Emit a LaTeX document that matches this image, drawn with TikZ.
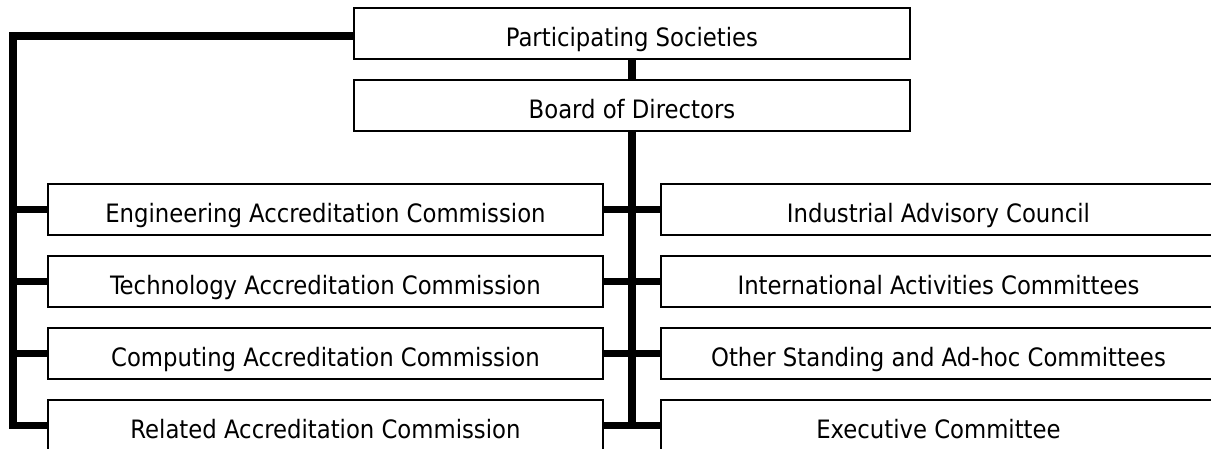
\documentclass[tikz,border=0pt]{standalone}
\usepackage{fontspec}
\setmainfont{DejaVu Sans Condensed}
\usepackage{tikz}

\begin{document}
\begin{tikzpicture}[x=0.025cm, y=-0.025cm,
        box/.style={draw, fill=white, line width=1.4pt, inner sep=0pt,
            minimum width=13.875cm, minimum height=1.275cm,
            text height=0.625cm, text depth=0cm, font=\fontsize{18}{21}\selectfont},
        link/.style={line width=5.6pt}]
        \clip (0, 0) rectangle (1211, 448);
        \node[box] (soc) at (632, 33.5) {Participating Societies};
        \node[box] (board) at (632, 105.5) {Board of Directors};

        \node[box] (eac) at (325.5, 209.5) {Engineering Accreditation Commission};
        \node[box] (tac) at (325.5, 281.5) {Technology Accreditation Commission};
        \node[box] (cac) at (325.5, 353.5) {Computing Accreditation Commission};
        \node[box] (rac) at (325.5, 425.5) {Related Accreditation Commission};

        \node[box] (iac) at (938.5, 209.5) {Industrial Advisory Council};
        \node[box] (intl) at (938.5, 281.5) {International Activities Committees};
        \node[box] (other) at (938.5, 353.5) {Other Standing and Ad-hoc Committees};
        \node[box] (exec) at (938.5, 425.5) {Executive Committee};

        \coordinate (corner) at (13, 36);
        \draw[link] (soc.west |- corner) -- (corner) -- (corner |- rac.west) -- (rac.west);
        \draw[link] (corner |- eac.west) -- (eac.west);
        \draw[link] (corner |- tac.west) -- (tac.west);
        \draw[link] (corner |- cac.west) -- (cac.west);

        \draw[link] (soc.south) -- (board.north);
        \draw[link] (board.south) -- (board.south |- rac.east);
        \draw[link] (eac.east) -- (iac.west);
        \draw[link] (tac.east) -- (intl.west);
        \draw[link] (cac.east) -- (other.west);
        \draw[link] (rac.east) -- (exec.west);
    \end{tikzpicture}
\end{document}
